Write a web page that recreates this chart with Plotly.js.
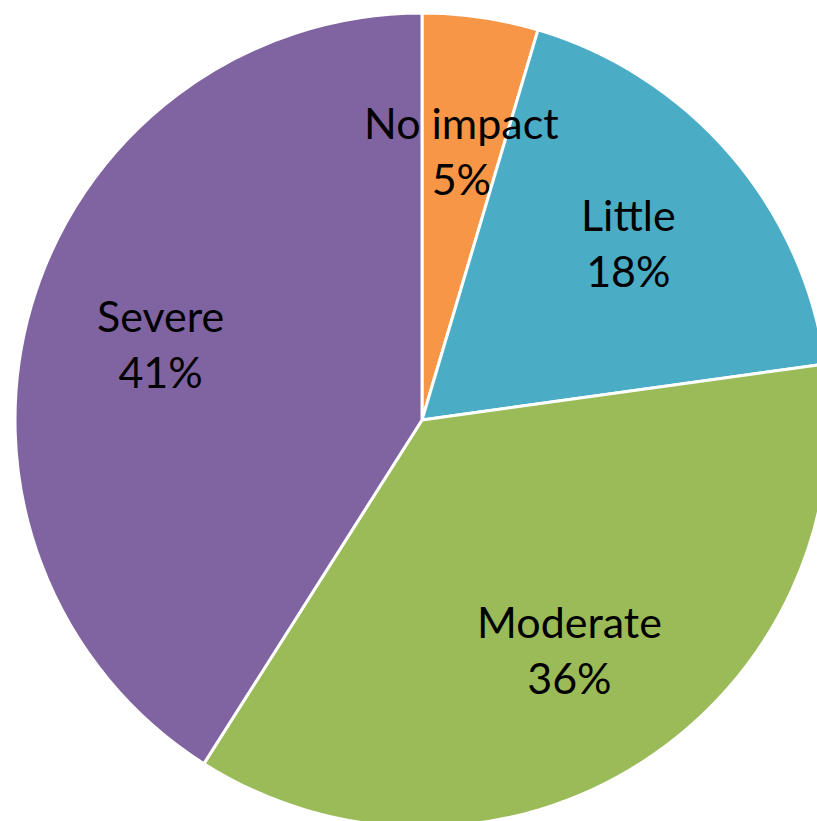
<!DOCTYPE html>
<html>
<head>
<meta charset="utf-8">
<script src="https://cdn.plot.ly/plotly-3.0.1.min.js"></script>
<style>
html, body { margin:0; padding:0; background:#fff; overflow:hidden; width:817px; height:821px; }
#chart { position:absolute; left:15px; top:13px; width:814px; height:814px; }
</style>
</head>
<body>
<div id="chart"></div>
<script>
var categories = ["No impact", "Little", "Moderate", "Severe"];
var shares = [4.6, 18.2, 36.2, 41.0];
var sliceColors = ["#F79646", "#4BACC6", "#9BBB59", "#8064A2"];

var total = shares.reduce(function(a, b){ return a + b; }, 0);
var labelRadius = 0.67;
var fontSpec = {family: "Lato, 'Liberation Sans', sans-serif", size: 43, color: "#000"};

var annotations = [];
var cum = 0;
for (var i = 0; i < shares.length; i++) {
  var mid = (cum + shares[i] / 2) / total * 2 * Math.PI;
  cum += shares[i];
  annotations.push({
    xref: "paper", yref: "paper",
    x: 0.5 + 0.5 * labelRadius * Math.sin(mid),
    y: 0.5 + 0.5 * labelRadius * Math.cos(mid),
    xanchor: "center", yanchor: "middle",
    showarrow: false,
    text: categories[i] + "<br>" + Math.round(shares[i] / total * 100) + "%",
    font: fontSpec
  });
}

var data = [{
  type: "pie",
  labels: categories,
  values: shares,
  sort: false,
  direction: "clockwise",
  rotation: 0,
  textinfo: "none",
  hoverinfo: "label+percent",
  marker: {colors: sliceColors, line: {color: "#ffffff", width: 3}},
  domain: {x: [0, 1], y: [0, 1]}
}];

var layout = {
  width: 814, height: 814,
  margin: {l: 0, r: 0, t: 0, b: 0},
  showlegend: false,
  paper_bgcolor: "rgba(0,0,0,0)",
  plot_bgcolor: "rgba(0,0,0,0)",
  annotations: annotations
};

Plotly.newPlot("chart", data, layout, {displayModeBar: false, staticPlot: true});
</script>
</body>
</html>
